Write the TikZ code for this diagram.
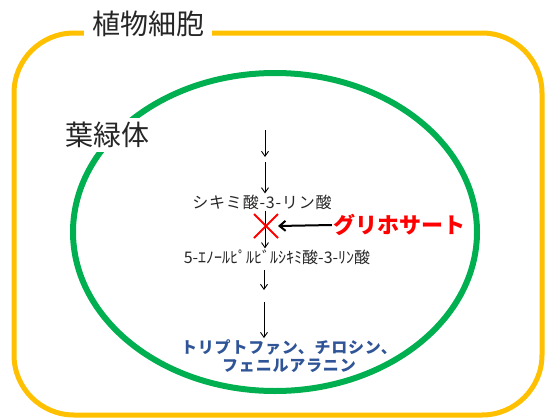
\documentclass[tikz,border=0pt]{standalone}
\usepackage{fontspec}
\newfontfamily\jp{Noto Sans CJK JP}
\newfontfamily\jpw[LetterSpace=5]{Noto Sans CJK JP}
\usetikzlibrary{arrows.meta,shapes.misc}
\definecolor{cellY}{HTML}{FFC000}
\definecolor{chloroG}{HTML}{00B050}
\definecolor{prodB}{HTML}{2F5597}
\begin{document}
\begin{tikzpicture}[x=1pt,y=-1pt,
  lbl/.style={font=\jpw\fontsize{16}{18}\selectfont, text=black!85, inner sep=1pt},
  bigl/.style={font=\jp\fontsize{28}{30}\selectfont, text=black!85, fill=white, inner xsep=8pt, inner ysep=4pt},
  flow/.style={draw=black, line width=0.9pt, -{Straight Barb[length=5pt,width=7pt]}},
]
\useasboundingbox (0,0) rectangle (549,418);
% plant cell
\draw[cellY, line width=5pt, rounded corners=60pt] (14,33) rectangle (542,415);
\node[bigl] (cell) at (148,24) {植物細胞};
% chloroplast
\draw[chloroG, line width=6pt] (275,232) ellipse [x radius=202, y radius=159];
\node[bigl, inner xsep=6pt] (chl) at (107,135) {葉緑体};
% pathway
\coordinate (a1s) at (265,130);
\coordinate (a1e) at (265,157);
\coordinate (a2s) at (265,162);
\node[lbl] (s3p) at (262,202) {シキミ酸-3-リン酸};
\node[lbl, font=\jp\fontsize{16}{18}\selectfont] (epsp) at (277,257) {5-ｴﾉｰﾙﾋﾟﾙﾋﾞﾙｼｷﾐ酸-3-ﾘﾝ酸};
\coordinate (a4s) at (264,270);
\coordinate (a4e) at (264,290);
\coordinate (a5s) at (264,302);
\node[font=\jpw\bfseries\fontsize{16}{18.5}\selectfont, text=prodB, align=center, inner sep=1pt] (prod) at (289,356) {トリプトファン、チロシン、\\フェニルアラニン};
\draw[flow] (a1s) -- (a1e);
\draw[flow] (a2s) -- (a2s |- s3p.north);
\draw[flow] (s3p.south -| a1s) -- (epsp.north -| a1s);
\draw[flow] (a4s) -- (a4e);
\draw[flow] (a5s) -- (a5s |- prod.north);
% inhibition
\node[cross out, draw=red, line width=2pt, minimum size=22pt] (blk) at (266,226) {};
\node[font=\jp\bfseries\fontsize{22}{24}\selectfont, text=red, inner sep=1pt] (gly) at (399,225) {グリホサート};
\draw[line width=2pt, -{Straight Barb[length=6pt,width=10pt]}] (gly.west) -- (blk.east);
\end{tikzpicture}
\end{document}
